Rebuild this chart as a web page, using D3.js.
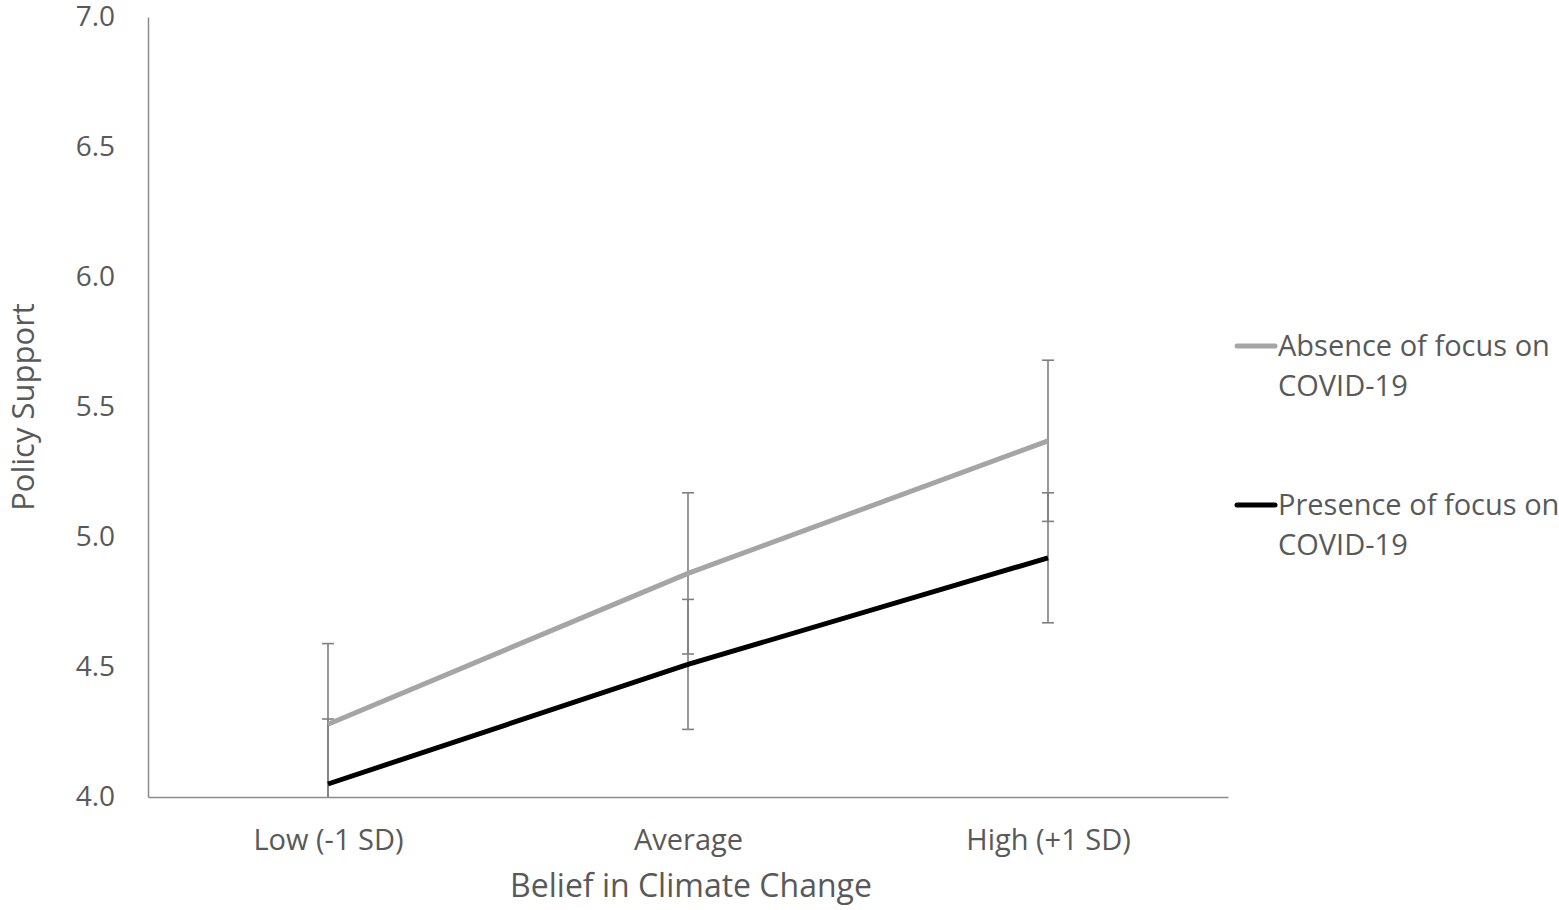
<!DOCTYPE html>
<html>
<head>
<meta charset="utf-8">
<script src="https://cdn.jsdelivr.net/npm/d3@7"></script>
<style>
  body { margin: 0; background: #fff; }
  text { font-family: "Open Sans", Lato, sans-serif; fill: #595959; }
</style>
</head>
<body>
<div id="chart"></div>
<script>
var svgWidth = 1559;
var svgHeight = 910;

var margin = { top: 17, right: 331, bottom: 113, left: 148 };
var width = svgWidth - margin.left - margin.right;
var height = svgHeight - margin.top - margin.bottom;

// data
var categories = ["Low (-1 SD)", "Average", "High (+1 SD)"];
var seriesNames = ["Absence of focus on COVID-19", "Presence of focus on COVID-19"];
var absenceValues = [4.28, 4.86, 5.37];
var presenceValues = [4.05, 4.51, 4.92];
var absenceError = 0.31;
var presenceError = 0.25;
var yTicks = [4.0, 4.5, 5.0, 5.5, 6.0, 6.5, 7.0];

var series = [
  { name: seriesNames[0], values: absenceValues, err: absenceError, color: "#a5a5a5", label: ["Absence of focus on", "COVID-19"] },
  { name: seriesNames[1], values: presenceValues, err: presenceError, color: "#000000", label: ["Presence of focus on", "COVID-19"] }
];

var svg = d3.select("#chart").append("svg")
  .attr("width", svgWidth)
  .attr("height", svgHeight);

svg.append("defs").append("clipPath")
  .attr("id", "plotClip")
  .append("rect")
  .attr("x", 0).attr("y", -2)
  .attr("width", width).attr("height", height + 2);

var chartGroup = svg.append("g")
  .attr("transform", `translate(${margin.left}, ${margin.top})`);

var x = d3.scalePoint()
  .domain(categories)
  .range([0, width])
  .padding(0.5);

var y = d3.scaleLinear()
  .domain([4, 7])
  .range([height, 0]);

// axes
var bottomAxis = d3.axisBottom(x).tickSize(0).tickPadding(32);
var leftAxis = d3.axisLeft(y).tickValues(yTicks).tickFormat(d3.format(".1f")).tickSize(0).tickPadding(33);

var xAxisG = chartGroup.append("g")
  .attr("transform", `translate(0, ${height})`)
  .call(bottomAxis);
xAxisG.select(".domain").attr("stroke", "#8c8c8c").attr("stroke-width", 1.5);
xAxisG.selectAll("text").style("font-size", "29px").style("fill", "#595959");

var yAxisG = chartGroup.append("g").call(leftAxis);
yAxisG.select(".domain").attr("stroke", "#8c8c8c").attr("stroke-width", 1.5);
yAxisG.selectAll("text").style("font-size", "28px").style("fill", "#595959");

var plot = chartGroup.append("g").attr("clip-path", "url(#plotClip)");

// error bars
series.forEach(function(s) {
  var eb = plot.append("g").attr("stroke", "#7f7f7f").attr("stroke-width", 1.6);
  s.values.forEach(function(v, i) {
    var cx = x(categories[i]);
    eb.append("line")
      .attr("x1", cx).attr("x2", cx)
      .attr("y1", y(v - s.err)).attr("y2", y(v + s.err));
    [v - s.err, v + s.err].forEach(function(e) {
      eb.append("line")
        .attr("x1", cx - 6).attr("x2", cx + 6)
        .attr("y1", y(e)).attr("y2", y(e));
    });
  });
});

// lines
var line = d3.line()
  .x(function(d, i) { return x(categories[i]); })
  .y(function(d) { return y(d); });

series.forEach(function(s) {
  plot.append("path")
    .datum(s.values)
    .attr("fill", "none")
    .attr("stroke", s.color)
    .attr("stroke-width", 5)
    .attr("d", line);
});

// legend
var legendY = [346, 505];
series.forEach(function(s, i) {
  var lg = svg.append("g").attr("transform", `translate(1237, ${legendY[i]})`);
  lg.append("line")
    .attr("x1", 0).attr("x2", 38)
    .attr("y1", 0).attr("y2", 0)
    .attr("stroke", s.color)
    .attr("stroke-width", 5)
    .attr("stroke-linecap", "round");
  var t = lg.append("text")
    .attr("x", 41)
    .attr("y", 10)
    .style("font-size", "29px");
  s.label.forEach(function(l, j) {
    t.append("tspan").attr("x", 41).attr("dy", j === 0 ? 0 : 40).text(l);
  });
});

// axis titles
chartGroup.append("text")
  .attr("transform", "rotate(-90)")
  .attr("x", -(height / 2))
  .attr("y", -margin.left + 34)
  .attr("text-anchor", "middle")
  .style("font-size", "31px")
  .text("Policy Support");

chartGroup.append("text")
  .attr("x", x("Average") + 3)
  .attr("y", height + 100)
  .attr("text-anchor", "middle")
  .style("font-size", "32px")
  .text("Belief in Climate Change");
</script>
</body>
</html>
